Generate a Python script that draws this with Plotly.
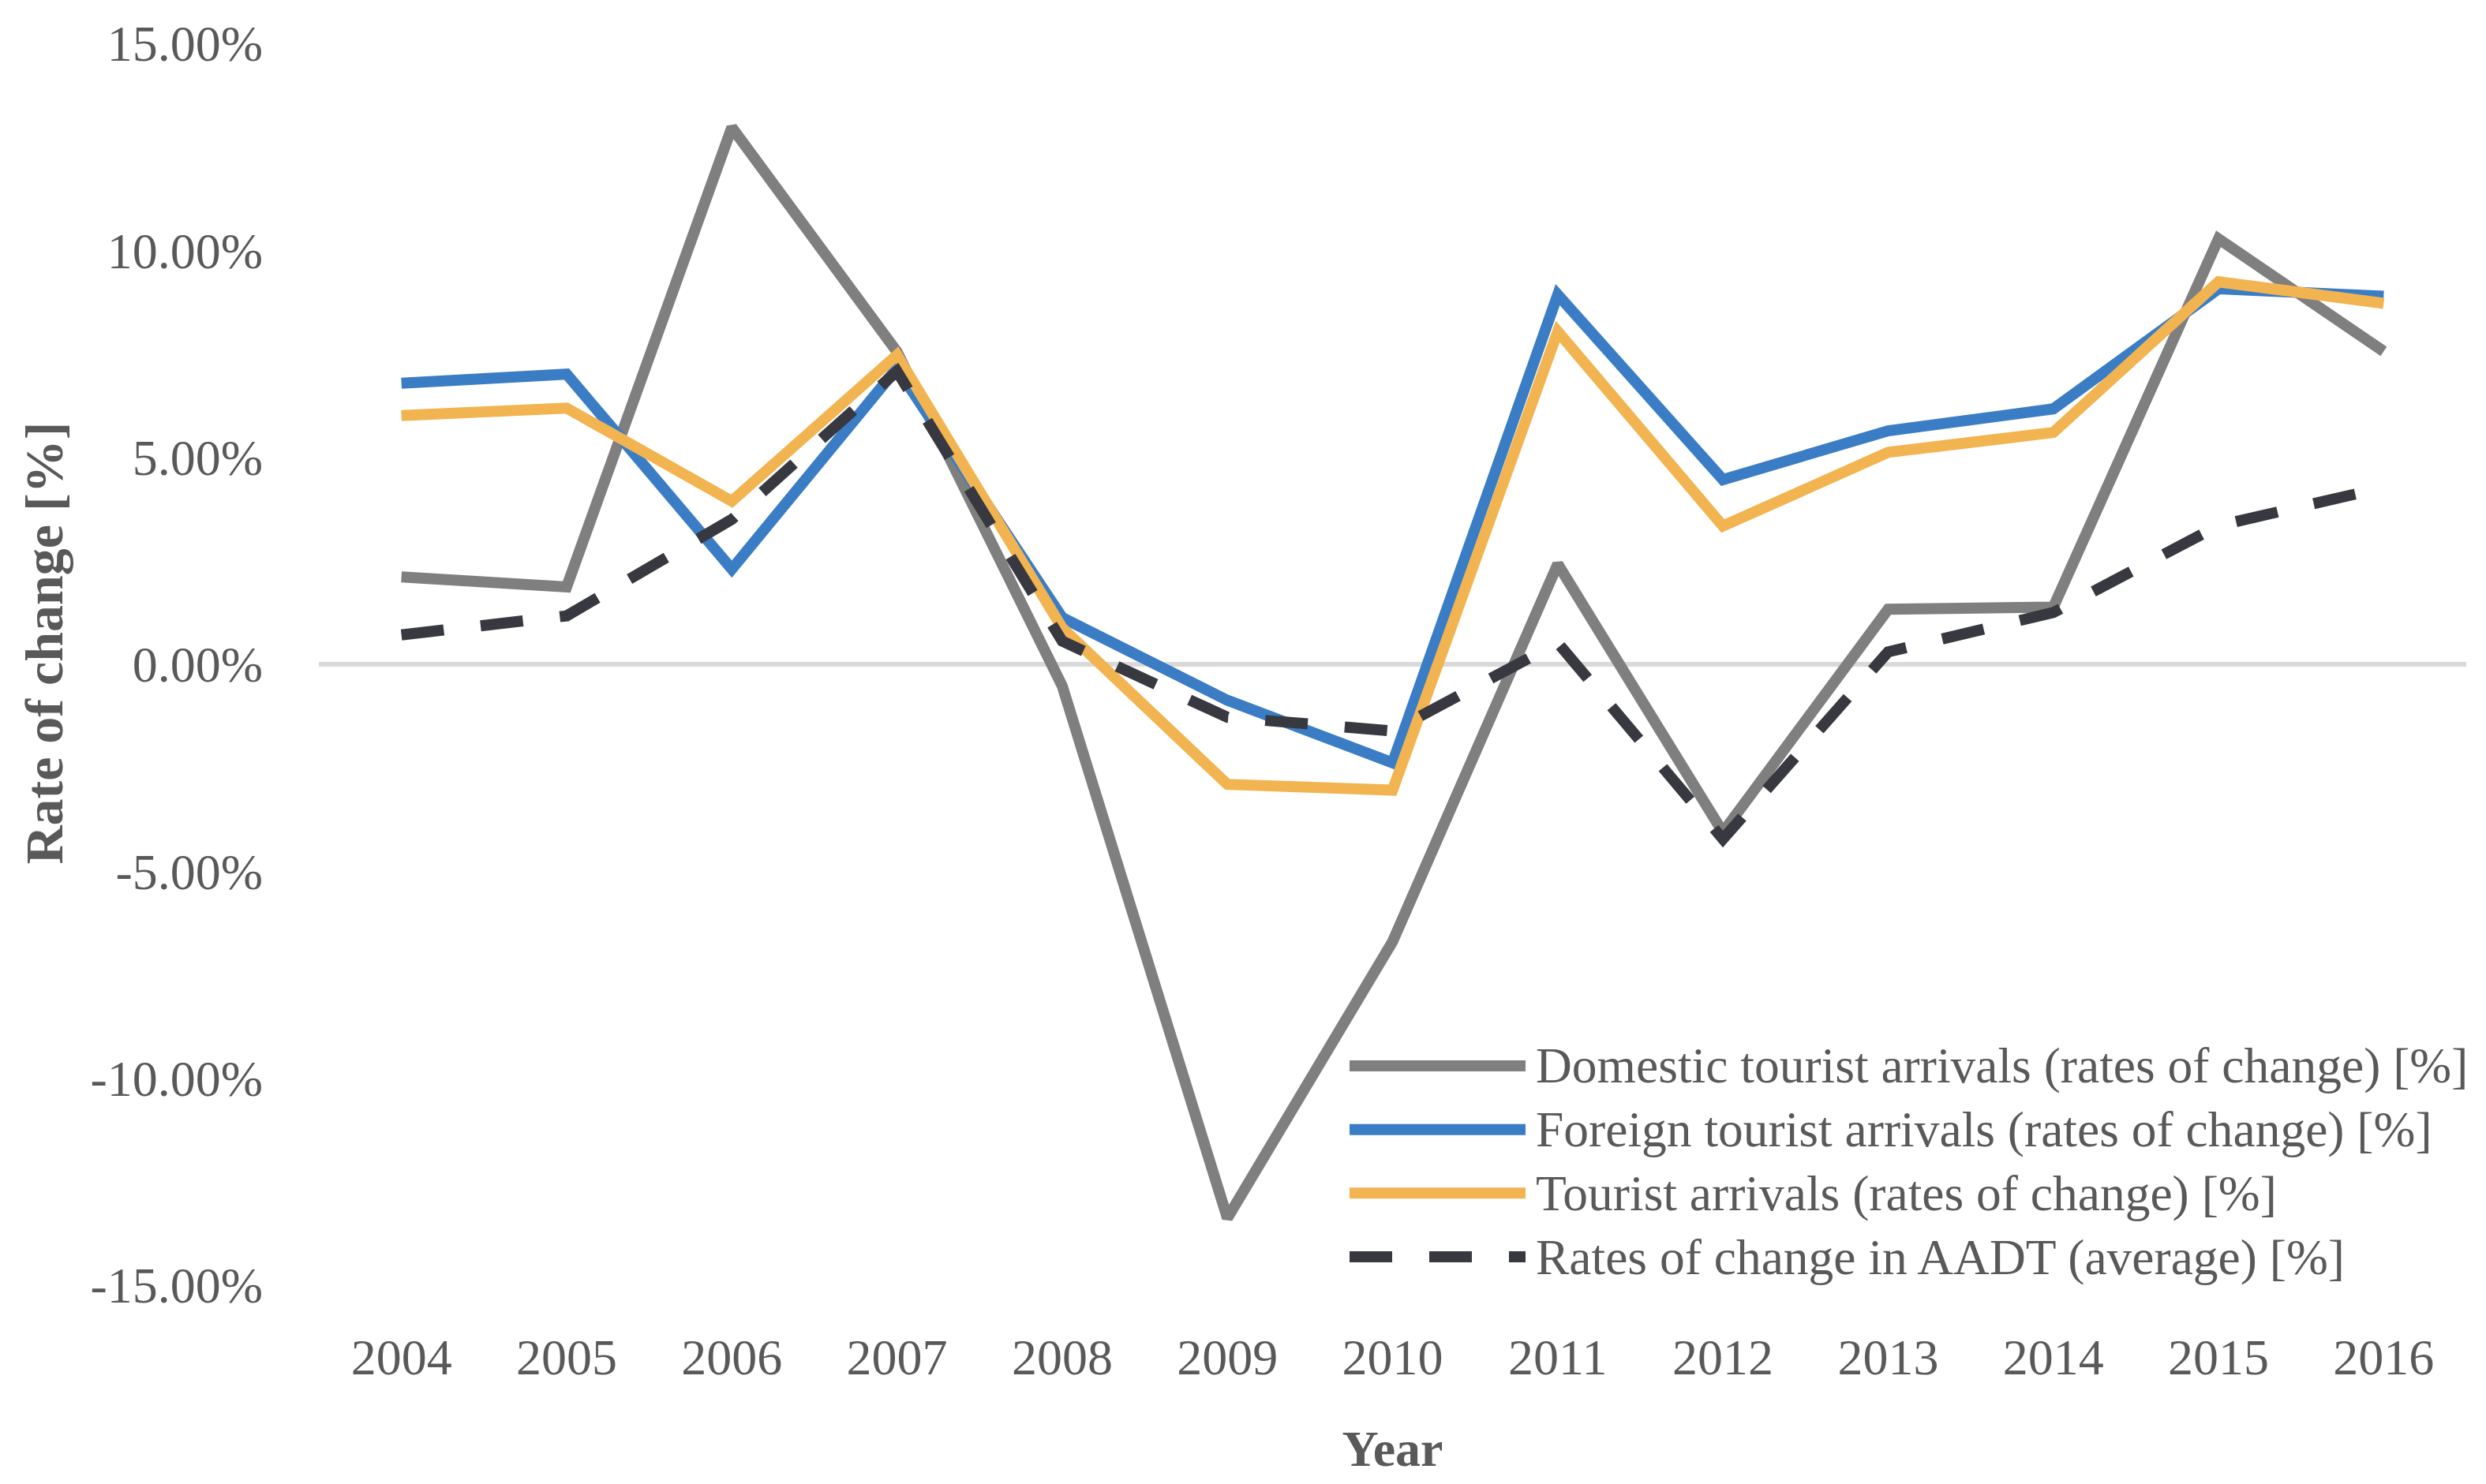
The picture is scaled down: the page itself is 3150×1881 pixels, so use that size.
import plotly.graph_objects as go

years = ["2004", "2005", "2006", "2007", "2008", "2009", "2010",
         "2011", "2012", "2013", "2014", "2015", "2016"]
domestic = [2.11, 1.87, 12.97, 7.55, -0.52, -13.38, -6.70, 2.42, -4.06, 1.33, 1.38, 10.28, 7.56]
foreign = [6.79, 7.01, 2.30, 7.15, 1.13, -0.87, -2.38, 8.93, 4.46, 5.64, 6.17, 9.07, 8.89]
tourist = [6.01, 6.19, 3.94, 7.47, 0.88, -2.90, -3.04, 8.04, 3.34, 5.12, 5.60, 9.24, 8.72]
aadt = [0.71, 1.17, 3.50, 7.08, 0.56, -1.28, -1.61, 0.52, -4.22, 0.30, 1.25, 3.35, 4.27]

series_names = [
    "Domestic tourist arrivals (rates of change) [%]",
    "Foreign tourist arrivals (rates of change) [%]",
    "Tourist arrivals (rates of change) [%]",
    "Rates of change in AADT (average) [%]",
]
series_values = [domestic, foreign, tourist, aadt]
colors = ["#7f7f7f", "#3a7dc5", "#f2b451", "#383841"]
dashes = ["solid", "solid", "solid", "54px,47px"]

y_tickvals = [-15, -10, -5, 0, 5, 10, 15]
y_ticktext = ["-15.00%", "-10.00%", "-5.00%", "0.00%", "5.00%", "10.00%", "15.00%"]

OFF = 8  # page body margin
W, H = 3150 - OFF, 1881 - OFF
ML, MR, MT, MB = 404 - OFF, 25, 50 - OFF, 252
PW, PH = W - ML - MR, H - MT - MB

FONT = "Palatino Linotype, Book Antiqua, Palatino, Liberation Serif, serif"
TXT = "#595959"

fig = go.Figure()
for name, vals, col, dsh in zip(series_names, series_values, colors, dashes):
    fig.add_trace(go.Scatter(
        x=years, y=vals, mode="lines", name=name,
        line=dict(color=col, width=14, dash=dsh),
        showlegend=False,
    ))


# convert screen pixel positions (reference picture) to paper coords
def px_x(px):
    return (px - OFF - ML) / PW


def px_y(py):
    return (H - MB - (py - OFF)) / PH


leg_x0, leg_x1, leg_tx = 1710, 1933, 1944
leg_ys = [1350, 1431, 1512, 1593]
shapes = []
annotations = []
for name, col, dsh, ly in zip(series_names, colors, dashes, leg_ys):
    shapes.append(dict(
        type="line", xref="paper", yref="paper",
        x0=px_x(leg_x0), x1=px_x(leg_x1), y0=px_y(ly), y1=px_y(ly),
        line=dict(color=col, width=14, dash=dsh),
    ))
    annotations.append(dict(
        xref="paper", yref="paper", x=px_x(leg_tx), y=px_y(ly),
        xanchor="left", yanchor="middle", showarrow=False,
        text=name, font=dict(family=FONT, size=63.5, color=TXT),
    ))

# y axis title (sits slightly above the plot centre, as in the original)
annotations.append(dict(
    xref="paper", yref="paper", x=px_x(56), y=px_y(813),
    xanchor="center", yanchor="middle", showarrow=False, textangle=-90,
    text="<b>Rate of change [%]</b>",
    font=dict(family=FONT, size=68, color=TXT),
))

fig.update_layout(
    width=W, height=H,
    margin=dict(l=ML, r=MR, t=MT, b=MB),
    paper_bgcolor="white", plot_bgcolor="white",
    font=dict(family=FONT, color=TXT),
    shapes=shapes, annotations=annotations,
    xaxis=dict(
        type="category", range=[-0.5, 12.5],
        showgrid=False, showline=False, zeroline=False,
        ticks="", ticklabelstandoff=48,
        tickfont=dict(family=FONT, size=64, color=TXT),
        title=dict(text="<b>Year</b>", standoff=58,
                   font=dict(family=FONT, size=64, color=TXT)),
    ),
    yaxis=dict(
        range=[-15, 15], tickvals=y_tickvals, ticktext=y_ticktext,
        showgrid=False, showline=False,
        zeroline=True, zerolinecolor="#d9d9d9", zerolinewidth=6,
        ticks="", ticklabelstandoff=70,
        tickfont=dict(family=FONT, size=64, color=TXT),
    ),
)

fig.write_html("out.html")
